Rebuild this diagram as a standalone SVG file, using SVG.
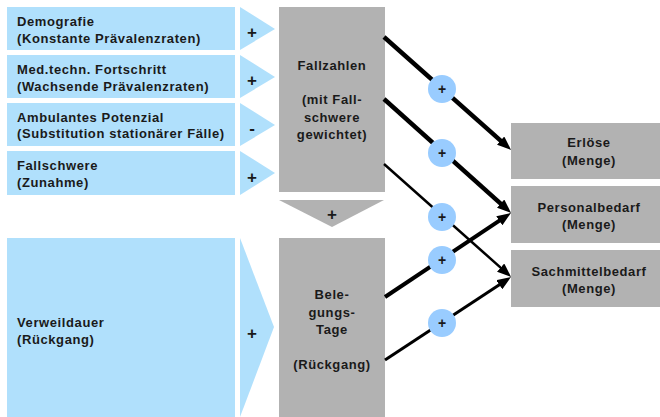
<svg xmlns="http://www.w3.org/2000/svg" width="660" height="417" viewBox="0 0 660 417">
<defs>
<style>
text{font-family:"Liberation Sans",Arial,sans-serif;font-weight:bold;font-size:13px;fill:#1a1a1a;letter-spacing:0.6px}
.in{fill:#b0e0fc}
.gr{fill:#b2b2b2}
.c{text-anchor:middle}
.sg{font-size:17px;text-anchor:middle;letter-spacing:0}
.ci{fill:#99ccff}
.cp{font-size:14px;text-anchor:middle;letter-spacing:0}
.ln{stroke:#000;fill:none;marker-end:url(#ah)}
</style>
<marker id="ah" markerUnits="userSpaceOnUse" viewBox="0 0 14 11" refX="6" refY="5.5" markerWidth="14" markerHeight="11" orient="auto">
<path d="M0,0 L14,5.5 L0,11 z" fill="#000"/>
</marker>
</defs>
<rect width="660" height="417" fill="#fff"/>

<g id="demografie">
<rect class="in" x="7" y="7" width="228" height="43"/>
<polygon class="in" points="240,7 275,29 240,50"/>
<text x="17" y="26">Demografie</text>
<text x="17" y="43">(Konstante Prävalenzraten)</text>
<text class="sg" x="252" y="38">+</text>
</g>
<g id="fortschritt">
<rect class="in" x="7" y="55" width="228" height="43"/>
<polygon class="in" points="240,55 275,77 240,98"/>
<text x="17" y="74">Med.techn. Fortschritt</text>
<text x="17" y="91">(Wachsende Prävalenzraten)</text>
<text class="sg" x="252" y="86">+</text>
</g>
<g id="ambulant">
<rect class="in" x="7" y="103" width="228" height="43"/>
<polygon class="in" points="240,103 275,125 240,146"/>
<text x="17" y="122">Ambulantes Potenzial</text>
<text x="17" y="138">(Substitution stationärer Fälle)</text>
<text class="sg" x="252" y="134">-</text>
</g>
<g id="fallschwere">
<rect class="in" x="7" y="151" width="228" height="44"/>
<polygon class="in" points="240,151 275,173 240,195"/>
<text x="17" y="170">Fallschwere</text>
<text x="17" y="187">(Zunahme)</text>
<text class="sg" x="252" y="183">+</text>
</g>
<g id="verweildauer">
<rect class="in" x="7" y="238" width="228" height="179"/>
<polygon class="in" points="240,238 274,327 240,417"/>
<text x="17" y="327">Verweildauer</text>
<text x="17" y="344">(Rückgang)</text>
<text class="sg" x="252" y="339">+</text>
</g>

<g id="fallzahlen">
<rect class="gr" x="279" y="7" width="106" height="185"/>
<text class="c" x="332" y="70">Fallzahlen</text>
<text class="c" x="332" y="104">(mit Fall-</text>
<text class="c" x="332" y="122">schwere</text>
<text class="c" x="332" y="139">gewichtet)</text>
</g>
<g id="plus-down">
<polygon class="gr" points="279,200 384,200 332,227"/>
<text class="sg" x="332" y="220">+</text>
</g>
<g id="belegungstage">
<rect class="gr" x="279" y="238" width="106" height="179"/>
<text class="c" x="332" y="299">Bele-</text>
<text class="c" x="332" y="317">gungs-</text>
<text class="c" x="332" y="334">Tage</text>
<text class="c" x="332" y="369">(Rückgang)</text>
</g>

<g id="erloese">
<rect class="gr" x="511" y="123" width="156" height="56"/>
<text class="c" x="589" y="147">Erlöse</text>
<text class="c" x="589" y="165">(Menge)</text>
</g>
<g id="personalbedarf">
<rect class="gr" x="511" y="186" width="156" height="57"/>
<text class="c" x="589" y="212">Personalbedarf</text>
<text class="c" x="589" y="229">(Menge)</text>
</g>
<g id="sachmittelbedarf">
<rect class="gr" x="511" y="250" width="156" height="57"/>
<text class="c" x="589" y="276">Sachmittelbedarf</text>
<text class="c" x="589" y="293">(Menge)</text>
</g>

<g id="connectors">
<line class="ln" x1="384" y1="37" x2="505.1" y2="144.6" stroke-width="4.5"/>
<line class="ln" x1="384" y1="99" x2="505.1" y2="207.6" stroke-width="4.5"/>
<line class="ln" x1="384" y1="164" x2="505.1" y2="271.6" stroke-width="2.5"/>
<line class="ln" x1="385" y1="297" x2="504.3" y2="217.4" stroke-width="4"/>
<line class="ln" x1="385" y1="360" x2="504.3" y2="281.4" stroke-width="3"/>
<circle class="ci" cx="442" cy="89" r="14"/>
<circle class="ci" cx="442" cy="153" r="14"/>
<circle class="ci" cx="442" cy="217" r="14"/>
<circle class="ci" cx="442" cy="260" r="14"/>
<circle class="ci" cx="442" cy="323" r="14"/>
<text class="cp" x="442" y="94">+</text>
<text class="cp" x="442" y="158">+</text>
<text class="cp" x="442" y="222">+</text>
<text class="cp" x="442" y="265">+</text>
<text class="cp" x="442" y="328">+</text>
</g>
</svg>
